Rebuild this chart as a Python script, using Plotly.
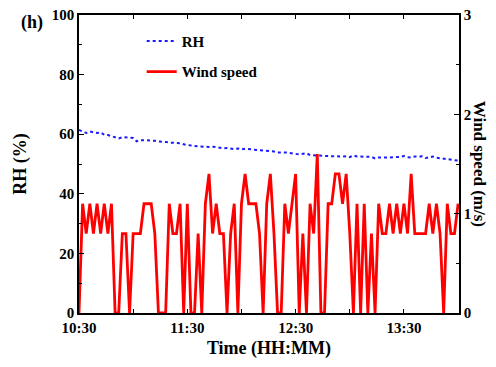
import pandas as pd
import plotly.graph_objects as go

# 2-minute samples from 10:30 to 14:00
start_time = "2021-01-01 10:30"
n_points = 106
interval = "2min"

rh = [61.4, 60.8, 60.4, 60.9, 60.7, 60.4, 60.6, 59.8, 59.7, 59.4,
      59.0, 58.6, 59.0, 58.9, 58.8, 58.7, 57.6, 58.0, 58.0, 58.0,
      58.0, 57.8, 57.6, 57.6, 57.4, 57.2, 57.2, 57.2, 57.0, 56.6,
      56.3, 56.2, 56.0, 55.9, 55.7, 55.8, 55.7, 55.8, 55.6, 55.6,
      55.3, 55.4, 55.2, 55.0, 55.2, 54.9, 55.1, 55.0, 55.0, 54.9,
      54.8, 54.5, 54.4, 54.4, 54.2, 53.9, 54.0, 53.9, 53.8, 53.7,
      53.4, 53.2, 53.3, 53.6, 53.0, 52.9, 52.8, 52.8, 52.7, 52.7,
      52.6, 52.6, 52.5, 52.5, 52.6, 52.3, 52.9, 52.5, 52.5, 52.4,
      52.5, 52.4, 51.9, 52.2, 52.2, 52.1, 52.2, 52.3, 52.3, 52.4,
      52.7, 52.3, 52.2, 52.5, 52.5, 52.6, 52.0, 52.3, 52.5, 52.1,
      51.9, 51.8, 51.7, 51.5, 51.3, 51.2]

wind = [0, 1.1, 0.8, 1.1, 0.8, 1.1, 0.8, 1.1, 0.8, 1.1,
        0, 0, 0.8, 0.8, 0, 0.8, 0.8, 0.8, 1.1, 1.1,
        1.1, 0.8, 0, 0, 0, 1.1, 0.8, 0.8, 1.1, 0,
        1.1, 0, 0, 0.8, 0, 1.1, 1.4, 0.8, 1.1, 0.8,
        0.8, 0, 0.8, 1.1, 0, 1.1, 1.4, 1.1, 1.1, 1.1,
        0.8, 0, 1.1, 1.4, 0.8, 0, 0, 1.1, 0.8, 1.1,
        1.4, 0, 0.8, 0, 1.1, 0.8, 1.6, 0, 0, 1.1,
        1.1, 1.4, 1.4, 1.1, 1.4, 0.8, 0, 1.1, 0, 1.1,
        0, 0.8, 0, 1.1, 0.8, 0.8, 1.1, 0.8, 1.1, 0.8,
        1.1, 0.8, 1.4, 0.8, 0.8, 0.8, 0.8, 1.1, 0.8, 1.1,
        0.8, 0, 1.1, 0.8, 0.8, 1.1]

x_tick_vals = ["2021-01-01 10:30", "2021-01-01 11:00", "2021-01-01 11:30",
               "2021-01-01 12:00", "2021-01-01 12:30", "2021-01-01 13:00",
               "2021-01-01 13:30", "2021-01-01 14:00"]
x_tick_text = ["10:30", "", "11:30", "", "12:30", "", "13:30", ""]
rh_ticks = [0, 20, 40, 60, 80, 100]
wind_ticks = [0, 1, 2, 3]

times = pd.date_range(start_time, periods=n_points, freq=interval)

FONT = "Liberation Serif"

fig = go.Figure()
fig.add_trace(go.Scatter(
    x=times, y=rh, mode="lines", name="RH",
    line=dict(color="#1a1aff", width=2, dash="dot"),
    legendgroup="a",
))
fig.add_trace(go.Scatter(
    x=times, y=wind, mode="lines", name="Wind speed", yaxis="y2",
    line=dict(color="#ff0000", width=2.8),
    legendgroup="b",
))

tickfont = dict(family=FONT, size=15, color="black", weight="bold")
titlefont = dict(family=FONT, size=18, color="black", weight="bold")

# the page body adds an 8px margin, so the figure is 16px smaller than the window
fig.update_layout(
    width=480, height=351,
    margin=dict(l=71, r=29, t=7, b=46, autoexpand=False),
    paper_bgcolor="white", plot_bgcolor="white",
    showlegend=True,
    legend=dict(
        x=0.165, y=0.967, xanchor="left", yanchor="top",
        bgcolor="rgba(0,0,0,0)",
        font=dict(family=FONT, size=15, color="black", weight="bold"),
        tracegroupgap=8, itemwidth=30,
    ),
    xaxis=dict(
        range=["2021-01-01 10:30", "2021-01-01 14:00:30"],
        tickvals=x_tick_vals, ticktext=x_tick_text,
        ticks="inside", ticklen=4, tickwidth=1.2, tickcolor="black",
        showline=True, linecolor="black", linewidth=1.5, mirror="ticks",
        showgrid=False, zeroline=False, automargin=False,
        ticklabeloverflow="allow",
        tickfont=tickfont,
        title=dict(text="Time (HH:MM)", font=titlefont, standoff=10),
    ),
    yaxis=dict(
        range=[0, 100],
        tickvals=rh_ticks,
        ticks="inside", ticklen=5, tickwidth=1.2, tickcolor="black",
        minor=dict(dtick=10, ticks="inside", ticklen=3, tickcolor="black", tickwidth=1.2),
        showline=True, linecolor="black", linewidth=1.5,
        showgrid=False, zeroline=False, automargin=False,
        ticklabeloverflow="allow",
        tickfont=tickfont,
        title=dict(text="RH (%)", font=titlefont, standoff=20),
    ),
    yaxis2=dict(
        range=[0, 3], overlaying="y", side="right",
        tickvals=wind_ticks,
        ticks="inside", ticklen=5, tickwidth=1.2, tickcolor="black",
        minor=dict(dtick=0.5, ticks="inside", ticklen=3, tickcolor="black", tickwidth=1.2),
        showline=True, linecolor="black", linewidth=1.5,
        showgrid=False, zeroline=False, automargin=False,
        ticklabeloverflow="allow",
        tickfont=tickfont,
    ),
    annotations=[
        dict(text="Wind speed (m/s)", textangle=90, xref="paper", yref="paper",
             x=1.056, y=0.5, xanchor="center", yanchor="middle", showarrow=False,
             font=dict(family=FONT, size=17, color="black", weight="bold")),
        dict(text="(h)", xref="paper", yref="paper", x=-0.125, y=0.975,
             xanchor="center", yanchor="middle", showarrow=False,
             font=dict(family=FONT, size=18, color="black", weight="bold")),
    ],
)

fig.write_html("out.html")
